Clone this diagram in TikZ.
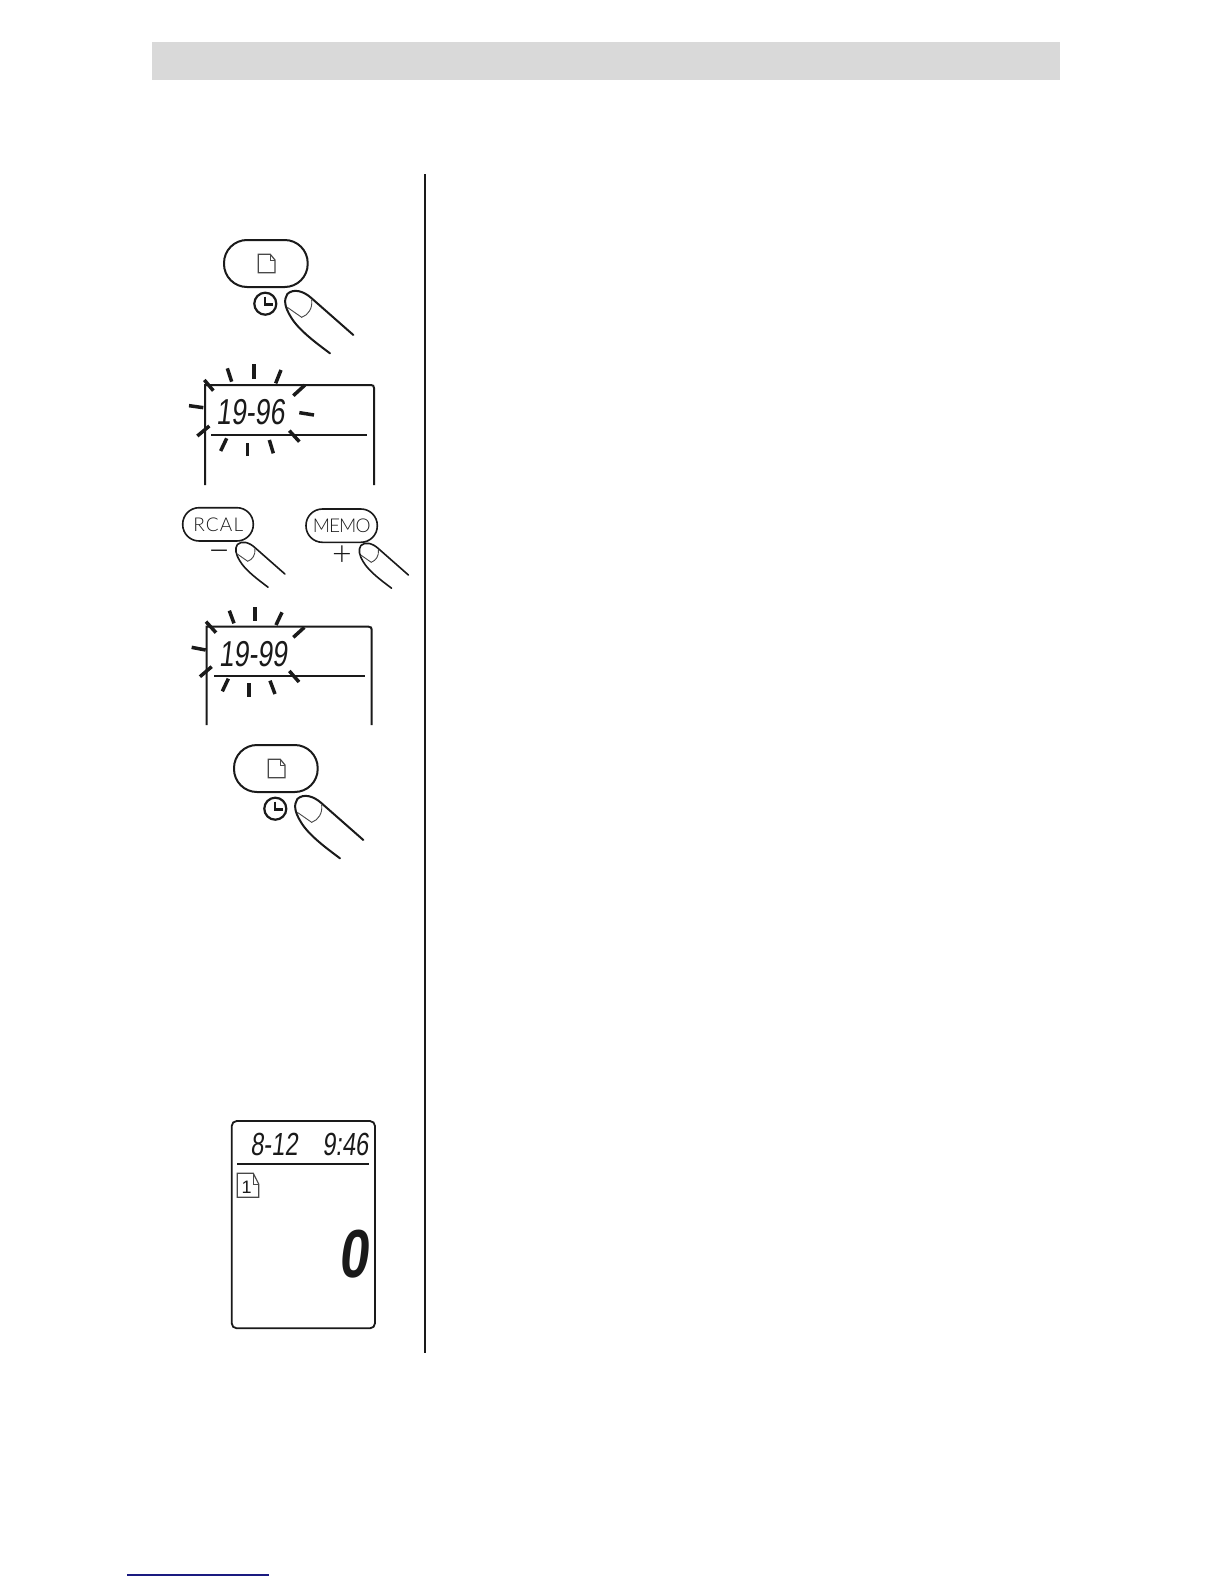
\documentclass[tikz,border=0pt]{standalone}
\usepackage{fontspec}
\setmainfont{Liberation Sans}
\newfontfamily\lcd[FakeSlant=0.12,FakeStretch=0.74]{Liberation Sans}
\newfontfamily\lcdb[FakeSlant=0.12,FakeStretch=0.78,BoldFont={Liberation Sans Bold}]{Liberation Sans Bold}
\newfontfamily\keyfont{Lato Light}
\newfontfamily\keywide[LetterSpace=6]{Lato Light}
\newfontfamily\keytight[LetterSpace=-5]{Lato Light}
\definecolor{ink}{HTML}{1A1A1A}
\definecolor{band}{HTML}{D9D9D9}
\definecolor{navy}{HTML}{1A1A80}
\tikzset{
  ln/.style={draw=ink,line width=1pt},
  thinln/.style={draw=ink!80,line width=.6pt},
  ray/.style={draw=ink,line width=1.75pt},
  lcdtext/.style={text=ink,inner sep=0pt,font=\lcd},
}
\newcommand{\fingerpic}[1]{%
  \draw[ln,line width=#1pt,line cap=round] (550,345) -- (425,235) .. controls (400,212) and (370,205) .. (352,222)
    .. controls (340,240) and (345,262) .. (362,290) .. controls (385,330) and (440,370) .. (480,400);
  \draw[thinln,line width=.45pt] (352,262) -- (395,292) .. controls (415,285) and (428,265) .. (425,240);
}
\newcommand{\docicon}{%
  \draw[thinln] (270.3,254.3) -- (258.3,254.3) -- (258.3,272.7) -- (275,272.7) -- (275,260) -- cycle;
  \draw[thinln,line width=.4pt] (270.3,254.3) -- (270.3,260) -- (275,260);
}
\newcommand{\clockicon}{%
  \draw[ln,line width=1.1pt] (265.3,303.7) circle[radius=11];
  \draw[ln,line width=1.1pt] (265.3,296.5) -- (265.3,304.5) -- (272.5,304.5);
}
\begin{document}
\begin{tikzpicture}[x=.5pt,y=-.5pt]
\useasboundingbox (0,0) rectangle (1224,1584);
\fill[white] (0,0) rectangle (1224,1584);
\fill[band] (152,42) rectangle (1060,80);
\draw[ln] (424.7,174) -- (424.7,1352.5);
\draw[navy,line width=.7pt] (127,1575) -- (269,1575);

% first key
\draw[draw=ink,line width=1pt,rounded corners=11.5pt] (224,240) rectangle (307.7,287);
\docicon \clockicon
\begin{scope}[shift={(170,220)},scale=.33333]\fingerpic{1}\end{scope}

% LCD 1
\draw[ln] (205,485) -- (205,385) -- (371,385) .. controls (373,385) and (374,386) .. (374,388) -- (374,485);
\draw[ln] (211,435) -- (366.7,435);
\begin{scope}[shift={(170,220)},scale=.33333]
  \foreach \a/\b/\c/\d in {103/480/130/512,172/445/185/485,252/433/252/477,333/450/317/490,405/495/370/527,388/578/432/585,358/632/388/665,310/700/298/660,233/708/233/668,170/655/152/693,118/618/82/648,57/557/100/563}
    \draw[ray] (\a,\b) -- (\c,\d);
\end{scope}
\node[lcdtext,font=\lcd\fontsize{18}{18}\selectfont] (yearA) at (250.3,412) {19-96};

% RCAL / MEMO
\draw[draw=ink,line width=.8pt,rounded corners=8.2pt] (182.7,507.7) rectangle (253.3,541);
\draw[draw=ink,line width=.8pt,rounded corners=8.2pt] (306,509) rectangle (377.3,542.3);
\node[inner sep=0pt,text=ink,font=\keywide\fontsize{9.5}{10}\selectfont] (rcal) at (218.3,524.3) {RCAL};
\node[inner sep=0pt,text=ink,font=\keytight\fontsize{9.5}{10}\selectfont] (memo) at (341.7,525.7) {MEMO};
\node[inner sep=0pt,text=ink,font=\keyfont\fontsize{19}{19}\selectfont] (minus) at (220,556.5) {−};
\node[inner sep=0pt,text=ink,font=\keyfont\fontsize{17}{17}\selectfont] (plus) at (342,555.5) {+};
\begin{scope}[shift={(152.9,491.2)},scale=.24]\fingerpic{.8}\end{scope}
\begin{scope}[shift={(276.4,492.2)},scale=.24]\fingerpic{.8}\end{scope}

% LCD 2
\draw[ln] (206.7,725) -- (206.7,626.7) -- (368.7,626.7) .. controls (370.7,626.7) and (371.7,627.7) .. (371.7,629.7) -- (371.7,725);
\draw[ln] (214,675.7) -- (365,675.7);
\begin{scope}[shift={(170,490)},scale=.33333]
  \foreach \a/\b/\c/\d in {108/395/138/428,178/362/192/400,255/352/255/393,336/367/318/405,403/412/370/442,358/543/387/576,315/612/300/572,237/620/237/580,175/566/157/604,125/530/90/560,65/472/107/480}
    \draw[ray] (\a,\b) -- (\c,\d);
\end{scope}
\node[lcdtext,font=\lcd\fontsize{18}{18}\selectfont] (yearB) at (253,654) {19-99};

% second key
\begin{scope}[shift={(10,505)}]
\draw[draw=ink,line width=1pt,rounded corners=11.5pt] (224,240) rectangle (307.7,287);
\docicon \clockicon
\end{scope}
\begin{scope}[shift={(180,725)},scale=.33333]\fingerpic{1}\end{scope}

% LCD 3
\draw[draw=ink,line width=.9pt,rounded corners=2.5pt] (231.7,1121) rectangle (375,1328.3);
\draw[ln] (237.3,1163.7) -- (369,1163.7);
\draw[thinln] (253.3,1173.3) -- (237.3,1173.3) -- (237.3,1197.3) -- (258.7,1197.3) -- (258.7,1184) -- cycle;
\draw[thinln,line width=.4pt] (253.3,1173.3) -- (253.3,1184) -- (258.7,1184);
\node[inner sep=0pt,text=ink,font=\fontsize{9}{9}\selectfont] (page) at (246.7,1187) {1};
\node[lcdtext,font=\lcd\fontsize{16}{16}\selectfont] (date) at (274,1144.3) {8-12};
\node[lcdtext,font=\lcd\fontsize{16}{16}\selectfont] (time) at (345.3,1144.3) {9:46};
\node[inner sep=0pt,text=ink,font=\lcdb\fontsize{34}{34}\selectfont] (count) at (353,1253.7) {0};
\end{tikzpicture}
\end{document}
